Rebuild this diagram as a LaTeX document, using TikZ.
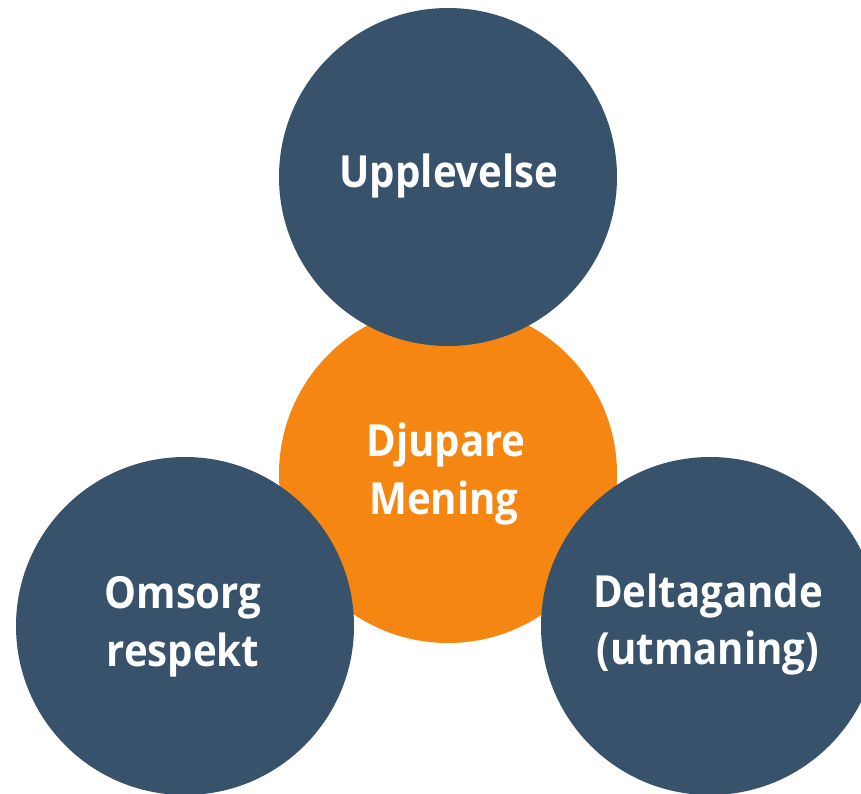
\documentclass[tikz,border=0pt]{standalone}
\usepackage{fontspec}
\setmainfont{Open Sans}
\definecolor{navy}{RGB}{56,82,108}
\definecolor{amber}{RGB}{245,134,18}
\newcommand{\tallword}[1]{\scalebox{0.98}[1.08]{#1}}
\begin{document}
\begin{tikzpicture}[x=1pt,y=-1pt,
  bubble/.style={circle,minimum size=338pt,inner sep=0pt,draw=none},
  lbl/.style={anchor=base,text=white,font=\fontsize{41}{48}\selectfont\bfseries,inner sep=0pt}]
\useasboundingbox (0,0) rectangle (861,793);
\clip (0,0) rectangle (861,793);
\fill[white] (0,0) rectangle (861,793);
\node[bubble,fill=amber] (mid) at (448,474) {};
\node[bubble,fill=navy] (top) at (448,177) {};
\node[bubble,fill=navy] (left) at (185,626) {};
\node[bubble,fill=navy] (right) at (710,626) {};
\node[lbl] (t1) at (449,187) {\tallword{Upplevelse}};
\node[lbl] (m1) at (446,456) {\tallword{Djupare}};
\node[lbl] (m2) at (444,514) {\tallword{Mening}};
\node[lbl] (l1) at (183,608) {\tallword{Omsorg}};
\node[lbl] (l2) at (183,666) {\tallword{respekt}};
\node[lbl] (r1) at (708,607) {\tallword{Deltagande}};
\node[lbl] (r2) at (708,664) {\tallword{(utmaning)}};
\end{tikzpicture}
\end{document}
